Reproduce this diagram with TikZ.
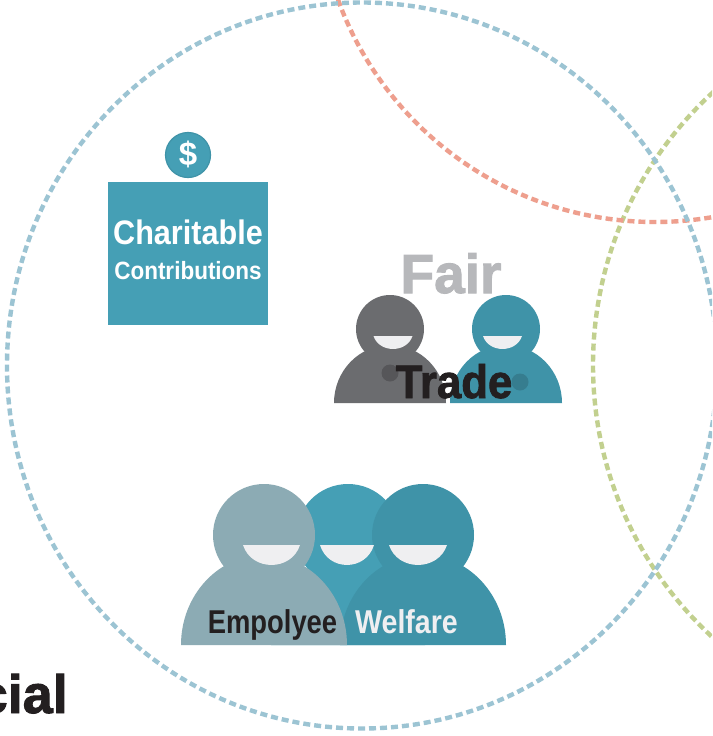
\documentclass[tikz,border=0pt]{standalone}
\usepackage{graphicx}
\usepackage{fontspec}
\setmainfont{Liberation Sans}
\newfontfamily\heavyfont[FakeBold=1.8]{Liberation Sans Bold}
\definecolor{cblue}{HTML}{9CC4D3}
\definecolor{cred}{HTML}{EE9F8E}
\definecolor{cgreen}{HTML}{C2D08F}
\definecolor{tealA}{HTML}{459FB5}
\definecolor{tealB}{HTML}{3F93A8}
\definecolor{slate}{HTML}{8CABB4}
\definecolor{greyP}{HTML}{6B6C6F}
\definecolor{greyT}{HTML}{B7B8BB}
\definecolor{inkT}{HTML}{231F20}
\definecolor{smile}{HTML}{EFEFF1}
\tikzset{
  ring/.style={line width=4.4pt,dash pattern=on 7pt off 4pt},
  lbl/.style={inner sep=0pt,font=\bfseries},
}
% #1 centre x, #2 head centre y, #3 head radius, #4 body half width, #5 body height, #6 base y, #7 colour
\newcommand{\personshape}[7]{%
  \fill[#7] ({#1},{#2}) circle[radius=#3];
  \fill[#7] ({#1-#4},{#6}) arc[start angle=180,end angle=360,x radius=#4,y radius=#5] -- cycle;
}
\newcommand{\smileshape}[4]{% x, y, half width, depth
  \fill[smile] ({#1-#3},{#2}) -- ({#1+#3},{#2}) .. controls ({#1+0.7*#3},{#2+1.33*#4}) and ({#1-0.7*#3},{#2+1.33*#4}) .. ({#1-#3},{#2}) -- cycle;
}
\begin{document}
\begin{tikzpicture}[x=1pt,y=-1pt]
\useasboundingbox (0,0) rectangle (712,736);
\begin{scope}
\clip (0,0) rectangle (712,736);
\fill[white] (0,0) rectangle (712,736);
\draw[ring,cgreen] (963,365) circle[radius=370];
\draw[ring,cred] (655,-115) circle[radius=337];
\draw[ring,cblue] (362,365.5) ellipse[x radius=355,y radius=363];

% Charitable box
\node[fill=tealA,minimum width=160pt,minimum height=143pt,inner sep=0pt] (box) at (188,253.5) {};
\node[circle,fill=tealA,draw=tealB,line width=1.2pt,minimum size=45pt,inner sep=0pt] (coin) at (188,155) {};
\node[lbl,text=white] (dollar) at (188,154.5) {\fontsize{33}{33}\selectfont \$};
\node[lbl,text=white,anchor=base] (t1) at (188,244) {\scalebox{0.9}[1]{\fontsize{34}{34}\selectfont Charitable}};
\node[lbl,text=white,anchor=base] (t2) at (188,279) {\scalebox{0.9}[1]{\fontsize{25}{25}\selectfont Contributions}};

% Fair Trade
\node[lbl,text=greyT,anchor=base] (fair) at (451,293) {\scalebox{1}[1]{\heavyfont\fontsize{55}{55}\selectfont Fair}};
\personshape{390}{329}{34}{56}{58}{403}{greyP}
\personshape{506}{329}{34}{56}{58}{403}{tealB}
\smileshape{393}{336}{19.5}{13}
\smileshape{502.5}{336}{19.5}{13}
\fill[greyP!80!black] (390,373) circle[radius=8.5];
\fill[tealB!85!black] (520,382) circle[radius=8.5];
\node[lbl,text=inkT,anchor=base] (trade) at (454,398) {\scalebox{0.93}[1]{\heavyfont\fontsize{47}{47}\selectfont Trade}};

% Employee Welfare
\personshape{348}{536}{52}{77}{90}{645}{tealA}
\personshape{423}{535}{51}{83}{90}{645}{tealB}
\personshape{264}{535}{51}{83}{90}{645}{slate}
\smileshape{271.5}{545}{28.5}{20}
\smileshape{347}{545}{27}{20}
\smileshape{418}{545}{29}{20}
\node[lbl,text=inkT,anchor=base] (emp) at (272.5,633) {\scalebox{0.83}[1]{\fontsize{33}{33}\selectfont Empolyee}};
\node[lbl,text=smile,anchor=base] (wel) at (406.5,633) {\scalebox{0.865}[1]{\fontsize{33}{33}\selectfont Welfare}};

% Cropped label
\node[lbl,text=inkT,anchor=base east] (soc) at (68,713) {\heavyfont\fontsize{54}{54}\selectfont cial};
\end{scope}
\end{tikzpicture}
\end{document}
